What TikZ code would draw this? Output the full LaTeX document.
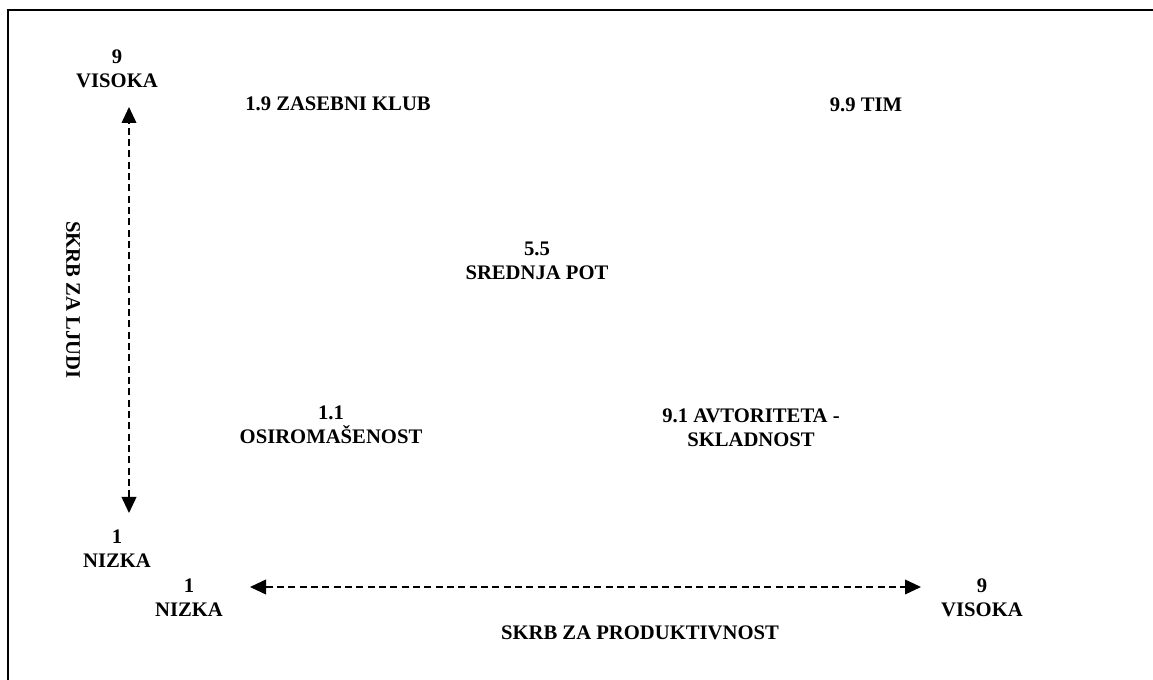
\documentclass[tikz,border=0pt]{standalone}
\usepackage{fontspec}
\setmainfont{Liberation Serif}
\usetikzlibrary{arrows.meta}
\begin{document}
\begin{tikzpicture}[x=0.75pt,y=-0.75pt,
  lbl/.style={font=\fontsize{15.5}{18}\selectfont\bfseries, align=center, inner sep=0pt},
  axisarrow/.style={line width=1.25pt, dash pattern=on 5.2pt off 3.3pt,
    {Triangle[length=12pt,width=11pt]}-{Triangle[length=12pt,width=11pt]}},
  frame/.style={line width=1.1pt}]
\useasboundingbox (0,0) rectangle (1153,680);
% open frame: left and top edges only
\draw[frame] (8,680) -- (8,10) -- (1153,10);

% vertical axis
\coordinate (ytip) at (129,107);
\coordinate (ybase) at (129,513);
\draw[axisarrow] (ybase) -- (ytip);
\node[lbl] (yhigh) at (117,69) {9\\VISOKA};
\node[lbl] (ylow) at (117,549) {1\\NIZKA};
\node[lbl, rotate=-90] (yname) at (73,300) {SKRB ZA LJUDI};

% horizontal axis
\coordinate (xbase) at (250,587);
\coordinate (xtip) at (921,587);
\draw[axisarrow] (xbase) -- (xtip);
\node[lbl] (xlow) at (189,598) {1\\NIZKA};
\node[lbl] (xhigh) at (982,598) {9\\VISOKA};
\node[lbl] (xname) at (640,633) {SKRB ZA PRODUKTIVNOST};

% grid styles
\node[lbl] (club) at (338,104) {1.9 ZASEBNI KLUB};
\node[lbl] (team) at (866,105) {9.9 TIM};
\node[lbl] (middle) at (537,261) {5.5\\SREDNJA POT};
\node[lbl] (poor) at (331,425) {1.1\\OSIROMAŠENOST};
\node[lbl] (authority) at (751,428) {9.1 AVTORITETA -\\SKLADNOST};
\end{tikzpicture}
\end{document}
